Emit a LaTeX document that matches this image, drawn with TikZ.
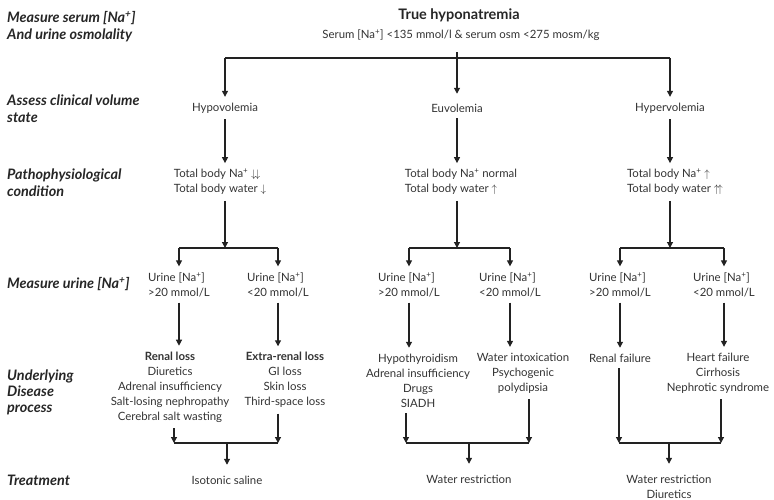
\documentclass[tikz,border=0pt]{standalone}
\usepackage{fontspec}
\setmainfont{Lato}
\usetikzlibrary{arrows.meta}
\definecolor{txt}{HTML}{333333}
\definecolor{lnc}{HTML}{222222}
\begin{document}
\begin{tikzpicture}[x=1pt,y=-1pt,
  every node/.style={inner sep=0pt, text=txt},
  body/.style={font=\fontsize{11.4}{15}\selectfont, align=center, outer ysep=6pt},
  bodyl/.style={body, align=left},
  lab/.style={font=\fontsize{14.4}{17}\selectfont\bfseries\itshape, align=left, anchor=west, text=black!85},
  arr/.style={draw=lnc, line width=1.2pt, -{Triangle[width=6pt,length=6pt]}},
  lnk/.style={draw=lnc, line width=1.2pt}]
\useasboundingbox (0,0) rectangle (774,500);

% left labels
\node[lab] (l1) at (7,26.5) {Measure serum [Na\textsuperscript{+}]\\And urine osmolality};
\node[lab] (l2) at (7,108.5) {Assess clinical volume\\state};
\node[lab] (l3) at (7,182.5) {Pathophysiological\\condition};
\node[lab] (l4) at (7,284) {Measure urine [Na\textsuperscript{+}]};
\node[lab, font=\fontsize{14.4}{16}\selectfont\bfseries\itshape] (l5) at (7,392.5) {Underlying\\Disease\\process};
\node[lab] (l6) at (7,480) {Treatment};

% top
\node[font=\fontsize{14.5}{15}\selectfont\bfseries, text=black!85] (title) at (459,15) {True hyponatremia};
\node[body, outer ysep=12pt] (sub) at (461,35) {Serum [Na\textsuperscript{+}] <135 mmol/l \& serum osm <275 mosm/kg};

% level 1
\node[body] (hypov) at (225,108) {Hypovolemia};
\node[body] (euv) at (457,108) {Euvolemia};
\node[body] (hyperv) at (670,108) {Hypervolemia};
\coordinate (ftop) at (457,58);

% level 2
\node[bodyl] (tb1) at (220,182) {Total body Na\textsuperscript{+} $\downarrow\!\downarrow$\\Total body water $\downarrow$};
\node[bodyl] (tb2) at (461,182) {Total body Na\textsuperscript{+} normal\\Total body water $\uparrow$};
\node[bodyl] (tb3) at (675,182) {Total body Na\textsuperscript{+} $\uparrow$\\Total body water $\uparrow\!\uparrow$};
\coordinate (f1) at (225,248);
\coordinate (f2) at (457,248);
\coordinate (f3) at (670,248);

% level 3
\node[bodyl] (u1) at (179,284.5) {Urine [Na\textsuperscript{+}]\\>20 mmol/L};
\node[bodyl] (u2) at (278,284.5) {Urine [Na\textsuperscript{+}]\\<20 mmol/L};
\node[bodyl] (u3) at (409,284.5) {Urine [Na\textsuperscript{+}]\\>20 mmol/L};
\node[bodyl] (u4) at (510,284.5) {Urine [Na\textsuperscript{+}]\\<20 mmol/L};
\node[bodyl] (u5) at (620,284.5) {Urine [Na\textsuperscript{+}]\\>20 mmol/L};
\node[bodyl] (u6) at (724,284.5) {Urine [Na\textsuperscript{+}]\\<20 mmol/L};

% level 4
\node[body] (d1) at (170,387) {\textbf{Renal loss}\\Diuretics\\Adrenal insufficiency\\Salt-losing nephropathy\\Cerebral salt wasting};
\node[body] (d2) at (285,380) {\textbf{Extra-renal loss}\\GI loss\\Skin loss\\Third-space loss};
\node[body] (d3) at (418,380.5) {Hypothyroidism\\Adrenal insufficiency\\Drugs\\SIADH};
\node[body] (d4) at (523,373) {Water intoxication\\Psychogenic\\polydipsia};
\node[body] (d5) at (620,358) {Renal failure};
\node[body] (d6) at (718,373) {Heart failure\\Cirrhosis\\Nephrotic syndrome};

\coordinate (m1) at (174,443);
\coordinate (m2) at (278,443);
\coordinate (m3) at (406,443);
\coordinate (m4) at (529,443);
\coordinate (m5) at (619,443);
\coordinate (m6) at (721,443);

% level 5
\node[body, outer ysep=11pt] (t1) at (227,480) {Isotonic saline};
\node[body, outer ysep=11pt] (t2) at (469,479) {Water restriction};
\node[body, outer ysep=11pt] (t3) at (669,486.5) {Water restriction\\Diuretics};

% connectors top
\draw[lnk] (hypov |- ftop) -- (hyperv |- ftop);
\draw[arr] (hypov |- ftop) -- (hypov.north);
\draw[arr] (hyperv |- ftop) -- (hyperv.north);
\draw[arr, shorten >=4pt] (sub.south -| euv) -- (euv.north);

% level1 -> level2
\draw[arr] (hypov.south) -- (hypov.south |- tb1.north);
\draw[arr] (euv.south) -- (euv.south |- tb2.north);
\draw[arr] (hyperv.south) -- (hyperv.south |- tb3.north);

% level2 -> forks
\draw[arr] (tb1.south -| f1) -- (f1);
\draw[arr] (tb2.south -| f2) -- (f2);
\draw[arr] (tb3.south -| f3) -- (f3);
\draw[lnk] (u1 |- f1) -- (u2 |- f1);
\draw[lnk] (u3 |- f2) -- (u4 |- f2);
\draw[lnk] (u5 |- f3) -- (u6 |- f3);
\foreach \u/\f in {u1/f1,u2/f1,u3/f2,u4/f2,u5/f3,u6/f3}
  \draw[arr] (\u |- \f) -- (\u.north);

% level3 -> level4
\draw[arr] (u1.south) -- (u1.south |- d1.north);
\draw[arr] (u2.south) -- (u2.south |- d2.north);
\draw[arr] (u3.south) -- (u3.south |- d3.north);
\draw[arr] (u4.south) -- (u4.south |- d4.north);
\draw[arr] (u5.south) -- (u5.south |- d5.north);
\draw[arr] (u6.south) -- (u6.south |- d6.north);

% level4 -> merges
\draw[arr] (d1.south -| m1) -- (m1);
\draw[arr] (d2.south -| m2) -- (m2);
\draw[arr] (d3.south -| m3) -- (m3);
\draw[arr] (d4.south -| m4) -- (m4);
\draw[arr] (d5.south -| m5) -- (m5);
\draw[arr] (d6.south -| m6) -- (m6);
\draw[lnk] (m1) -- (m2);
\draw[lnk] (m3) -- (m4);
\draw[lnk] (m5) -- (m6);
\draw[arr] (t1 |- m1) -- (t1.north);
\draw[arr] (t2 |- m3) -- (t2.north);
\draw[arr] (t3 |- m5) -- (t3.north);
\end{tikzpicture}
\end{document}
